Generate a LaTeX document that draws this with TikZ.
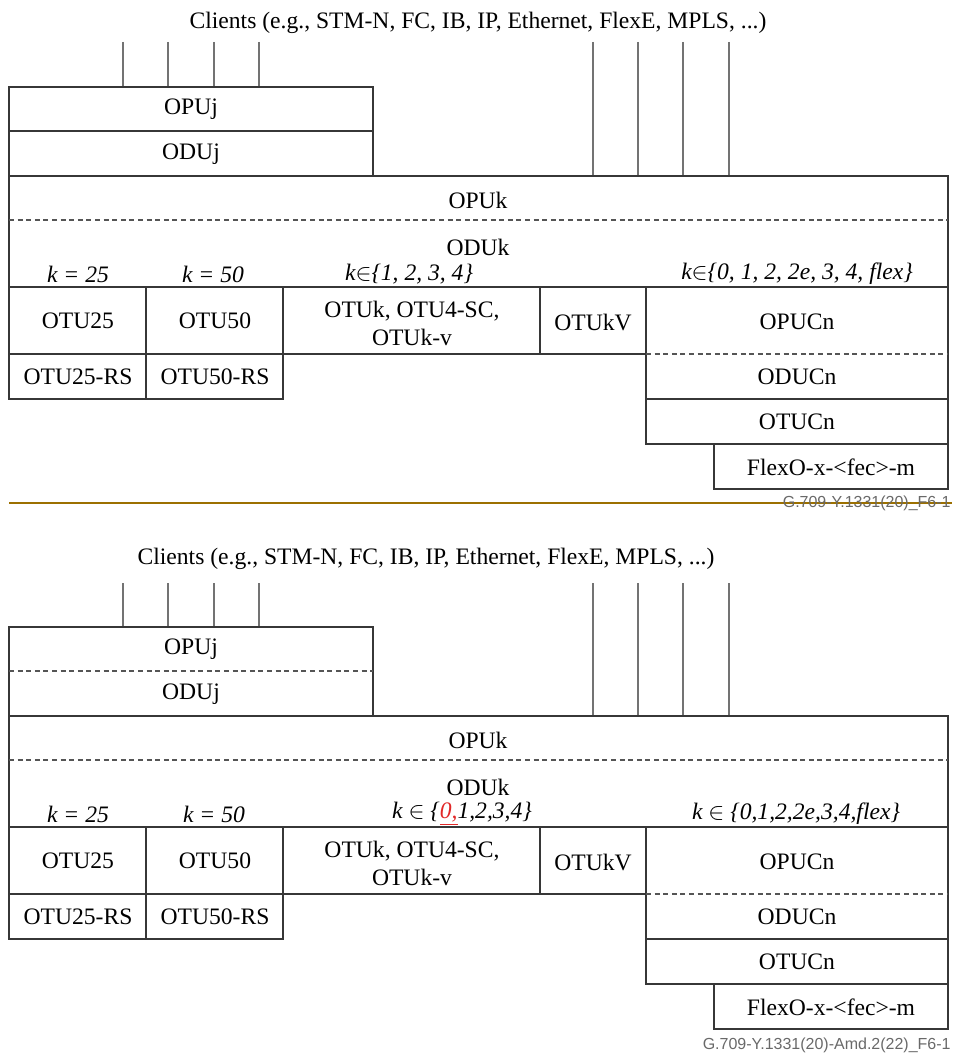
\documentclass[tikz,border=0pt]{standalone}
\usepackage{fontspec}
\setmainfont{Liberation Serif}
\setsansfont{Liberation Sans}
\usepackage{xcolor}

\definecolor{boxline}{RGB}{55,55,55}
\definecolor{clientline}{RGB}{115,115,115}
\definecolor{rulebrown}{RGB}{156,112,0}
\definecolor{capgray}{RGB}{105,105,105}
\definecolor{markred}{RGB}{225,40,40}

\tikzset{
  layer/.style={draw=boxline, line width=0.7pt},
  split/.style={draw=boxline!85, line width=0.6pt, dash pattern=on 2.5pt off 1.8pt},
  client/.style={draw=clientline, line width=0.6pt},
  lbl/.style={inner sep=0pt, align=center, font=\fontsize{11.8}{14}\selectfont},
  klbl/.style={lbl, font=\fontsize{11.8}{14}\selectfont\itshape},
  figcap/.style={inner sep=0pt, anchor=east, text=capgray, font=\sffamily\fontsize{8}{9}\selectfont}
}

\begin{document}
\begin{tikzpicture}[x=0.5pt, y=-0.5pt]
    \useasboundingbox (0,0) rectangle (952,1063);

    % upper figure
    \begin{scope}
    \node[lbl] (cliA) at (478,23) {Clients (e.g., STM-N, FC, IB, IP, Ethernet, FlexE, MPLS, ...)};
    \foreach \cx in {123,168,214,259} \draw[client] (\cx,42) -- (\cx,87);
    \foreach \cx in {593,638,683,729} \draw[client] (\cx,42) -- (\cx,176);
    \draw[layer] (9,87) rectangle (373,176);
    \draw[layer] (9,131) -- (373,131);
    \draw[layer] (9,176) rectangle (948,287);
    \draw[split] (9,220) -- (948,220);
    \draw[layer] (9,287) rectangle (646,354);
    \foreach \dx in {146,283,540} \draw[layer] (\dx,287) -- (\dx,354);
    \draw[layer] (9,354) rectangle (283,399);
    \draw[layer] (146,354) -- (146,399);
    \draw[layer] (646,287) rectangle (948,444);
    \draw[split] (646,354) -- (948,354);
    \draw[layer] (646,399) -- (948,399);
    \draw[layer] (714,444) rectangle (948,489);
    \node[lbl] (opujA) at (191,109) {OPUj};
    \node[lbl] (odujA) at (191,154) {ODUj};
    \node[lbl] (opukA) at (478,200) {OPUk};
    \node[lbl] (odukA) at (478,247) {ODUk};
    \node[klbl] (k25A) at (78,274) {k = 25};
    \node[klbl] (k50A) at (213,274) {k = 50};
    \node[klbl] (kmidA) at (409,274) {k$\in$\{1, 2, 3, 4\}};
    \node[klbl] (kflexA) at (797,274) {k$\in$\{0, 1, 2, 2e, 3, 4, flex\}};
    \node[lbl] (otu25A) at (78,321) {OTU25};
    \node[lbl] (otu50A) at (215,321) {OTU50};
    \node[lbl] (otukA) at (412,323) {OTUk, OTU4-SC,\\OTUk-v};
    \node[lbl] (otukvA) at (593,322) {OTUkV};
    \node[lbl] (opucnA) at (797,322) {OPUCn};
    \node[lbl] (otu25rsA) at (78,377) {OTU25-RS};
    \node[lbl] (otu50rsA) at (215,377) {OTU50-RS};
    \node[lbl] (oducnA) at (797,377) {ODUCn};
    \node[lbl] (otucnA) at (797,422) {OTUCn};
    \node[lbl] (flexoA) at (831,467) {FlexO-x-<fec>-m};
    \draw[rulebrown, line width=1pt] (9,503) -- (952,503);
    \node[figcap] (capA) at (951,503) {G.709-Y.1331(20)\_F6-1};
    \end{scope}

    % lower figure (amended)
    \begin{scope}[shift={(0,540)}]
    \node[lbl] (cliB) at (426,19) {Clients (e.g., STM-N, FC, IB, IP, Ethernet, FlexE, MPLS, ...)};
    \foreach \cx in {123,168,214,259} \draw[client] (\cx,43) -- (\cx,87);
    \foreach \cx in {593,638,683,729} \draw[client] (\cx,43) -- (\cx,176);
    \draw[layer] (9,87) rectangle (373,176);
    \draw[split] (9,131) -- (373,131);
    \draw[layer] (9,176) rectangle (948,287);
    \draw[split] (9,220) -- (948,220);
    \draw[layer] (9,287) rectangle (646,354);
    \foreach \dx in {146,283,540} \draw[layer] (\dx,287) -- (\dx,354);
    \draw[layer] (9,354) rectangle (283,399);
    \draw[layer] (146,354) -- (146,399);
    \draw[layer] (646,287) rectangle (948,444);
    \draw[split] (646,354) -- (948,354);
    \draw[layer] (646,399) -- (948,399);
    \draw[layer] (714,444) rectangle (948,489);
    \node[lbl] (opujB) at (191,109) {OPUj};
    \node[lbl] (odujB) at (191,154) {ODUj};
    \node[lbl] (opukB) at (478,200) {OPUk};
    \node[lbl] (odukB) at (478,247) {ODUk};
    \node[klbl] (k25B) at (78,274) {k = 25};
    \node[klbl] (k50B) at (214,274) {k = 50};
    \node[klbl] (kmidB) at (462,274) {k $\in$ \{\textcolor{markred}{\underline{0,}}1,2,3,4\}};
    \node[klbl] (kflexB) at (796,274) {k $\in$ \{0,1,2,2e,3,4,flex\}};
    \node[lbl] (otu25B) at (78,321) {OTU25};
    \node[lbl] (otu50B) at (215,321) {OTU50};
    \node[lbl] (otukB) at (412,323) {OTUk, OTU4-SC,\\OTUk-v};
    \node[lbl] (otukvB) at (593,322) {OTUkV};
    \node[lbl] (opucnB) at (797,322) {OPUCn};
    \node[lbl] (otu25rsB) at (78,377) {OTU25-RS};
    \node[lbl] (otu50rsB) at (215,377) {OTU50-RS};
    \node[lbl] (oducnB) at (797,377) {ODUCn};
    \node[lbl] (otucnB) at (797,422) {OTUCn};
    \node[lbl] (flexoB) at (831,467) {FlexO-x-<fec>-m};
    \node[figcap] (capB) at (951,505) {G.709-Y.1331(20)-Amd.2(22)\_F6-1};
    \end{scope}
\end{tikzpicture}
\end{document}
